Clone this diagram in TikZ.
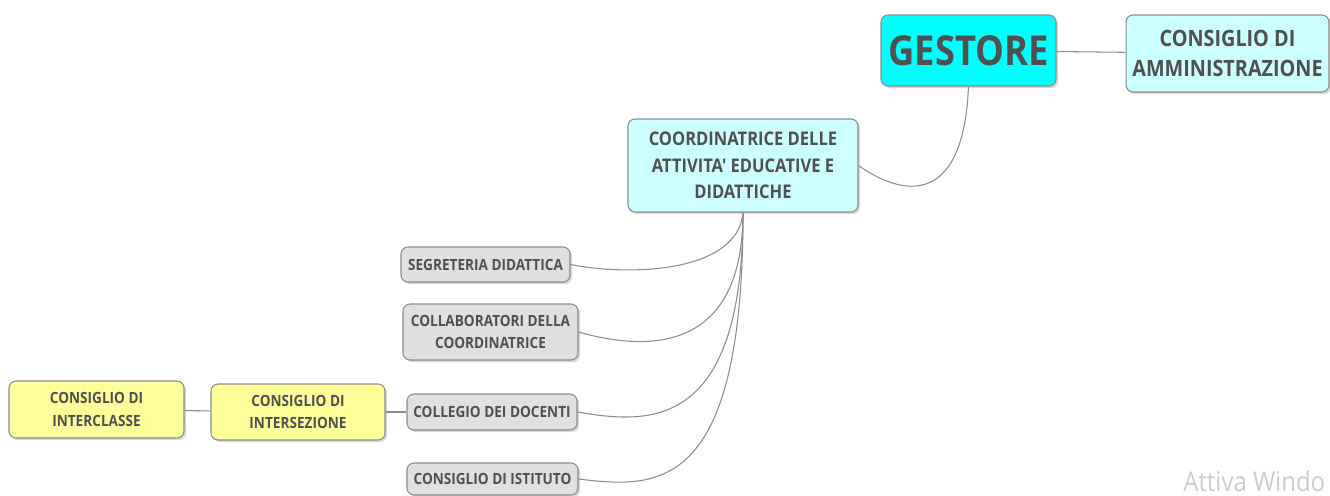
\documentclass[tikz,border=0pt]{standalone}
\usepackage{fontspec}
\newfontfamily\mapfont{Open Sans}[FakeStretch=0.88]
\usetikzlibrary{shadows}
\definecolor{ink}{HTML}{505050}
\definecolor{rim}{HTML}{8C8C8C}
\definecolor{topcyan}{HTML}{00FFFF}
\definecolor{palecyan}{HTML}{CCFFFF}
\definecolor{palegray}{HTML}{E0E0E0}
\definecolor{paleyellow}{HTML}{FFFF99}

\begin{document}
\begin{tikzpicture}[x=0.02cm,y=-0.02cm,
	box/.style={draw=rim,line width=0.6pt,rounded corners=4pt,inner sep=0pt,align=center,text=ink,
		drop shadow={shadow xshift=1.2pt,shadow yshift=-1.2pt,opacity=0.3}},
	root/.style={box,fill=topcyan,font=\mapfont\bfseries\fontsize{23.5}{26}\selectfont},
	board/.style={box,fill=palecyan,font=\mapfont\bfseries\fontsize{12.8}{17}\selectfont},
	head/.style={box,fill=palecyan,font=\mapfont\bfseries\fontsize{10.7}{15}\selectfont},
	office/.style={box,fill=palegray,font=\mapfont\bfseries\fontsize{8.8}{12}\selectfont},
	council/.style={box,fill=paleyellow,font=\mapfont\bfseries\fontsize{8.8}{13}\selectfont},
	link/.style={draw=rim,line width=0.6pt}]
		\useasboundingbox[fill=white] (0,0) rectangle (1330,496);
		\node[root,minimum width=3.5cm,minimum height=1.42cm] (G) at (968.5,50.5) {GESTORE};
		\node[board,minimum width=4.06cm,minimum height=1.54cm] (CdA) at (1227.5,53.5) {CONSIGLIO DI\\AMMINISTRAZIONE};
		\node[head,minimum width=4.6cm,minimum height=1.86cm] (C) at (743,165.5) {COORDINATRICE DELLE\\ATTIVITA' EDUCATIVE E\\DIDATTICHE};
		\node[office,minimum width=3.38cm,minimum height=0.7cm] (S1) at (485.5,264.5) {SEGRETERIA DIDATTICA};
		\node[office,minimum width=3.5cm,minimum height=1.12cm] (S2) at (490.5,332) {COLLABORATORI DELLA\\COORDINATRICE};
		\node[office,minimum width=3.4cm,minimum height=0.72cm] (S3) at (492,412) {COLLEGIO DEI DOCENTI};
		\node[office,minimum width=3.42cm,minimum height=0.64cm] (S4) at (492.5,479) {CONSIGLIO DI ISTITUTO};
		\node[council,minimum width=3.48cm,minimum height=1.12cm] (Y1) at (298,412) {CONSIGLIO DI\\INTERSEZIONE};
		\node[council,minimum width=3.5cm,minimum height=1.14cm] (Y2) at (96.5,409.5) {CONSIGLIO DI\\INTERCLASSE};
		\node[anchor=base west,inner sep=0pt,text=black!20,font=\mapfont\fontsize{15.5}{17}\selectfont] (W) at (1183,492) {Attiva Windo};

		\path[link] (G) edge (CdA)
		            (Y1) edge (S3)
		            (Y2) edge (Y1);
		\draw[link] (G.south) .. controls +(-5,120) and +(45,32) .. (C.east);
		\draw[link] (C.south) .. controls +(-5,60) and +(60,12) .. (S1.east);
		\draw[link] (C.south) .. controls +(0,140) and +(70,20) .. (S2.east);
		\draw[link] (C.south) .. controls +(0,220) and +(70,12) .. (S3.east);
		\draw[link] (C.south) .. controls +(0,280) and +(80,10) .. (S4.east);
	\end{tikzpicture}
\end{document}
